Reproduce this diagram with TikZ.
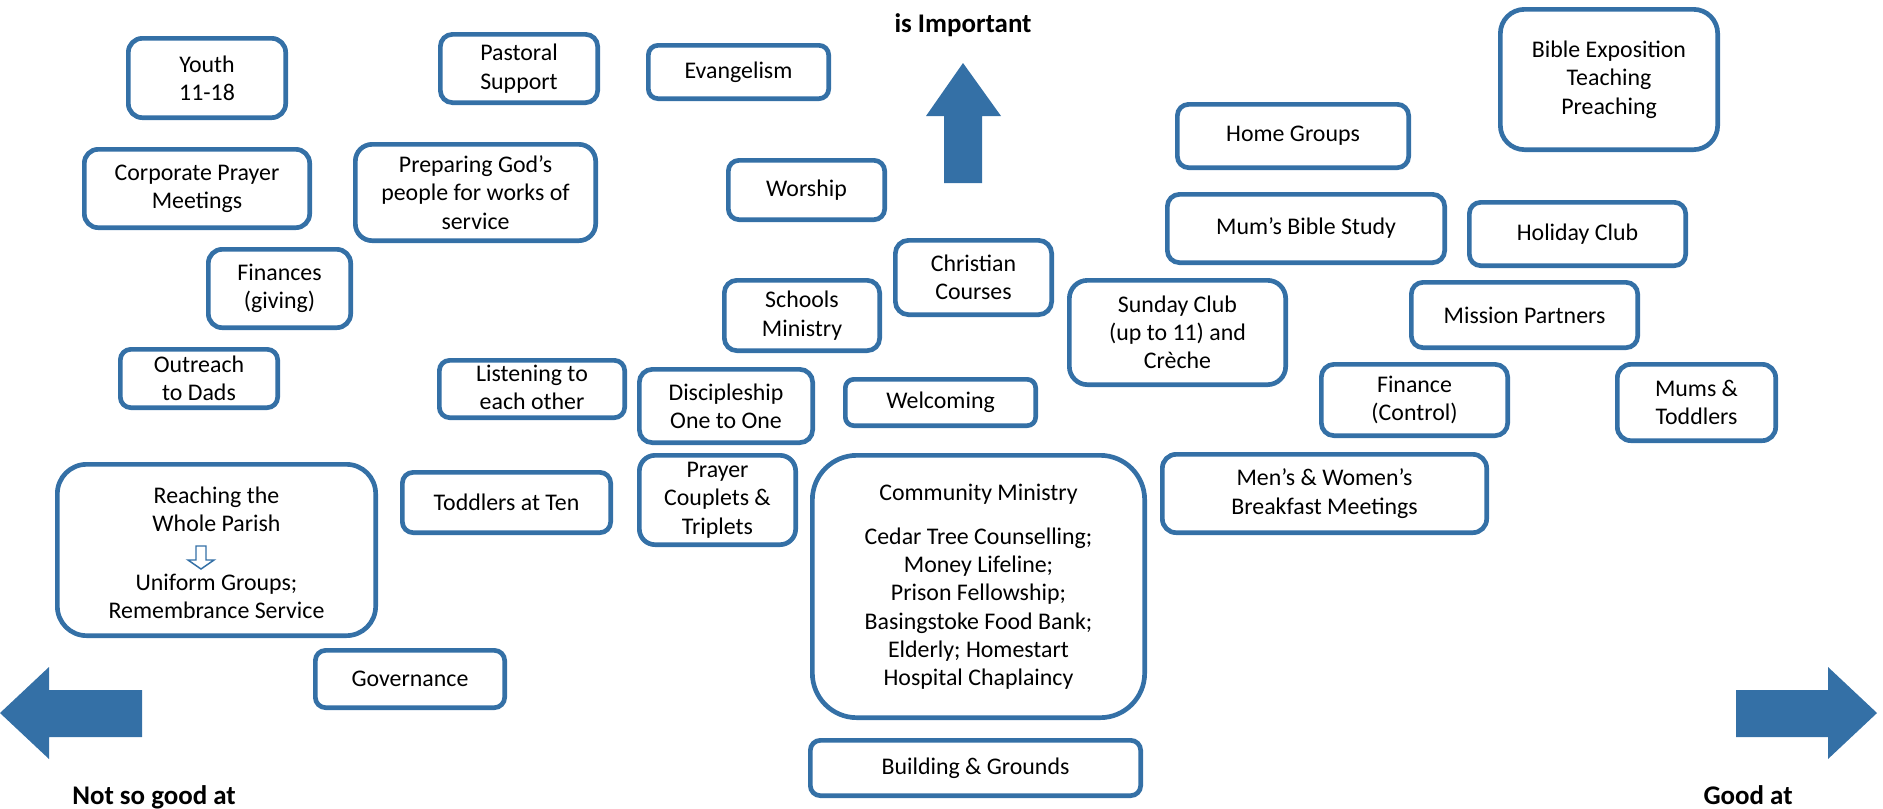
\documentclass[tikz,border=0pt]{standalone}
\usepackage{fontspec}
\setmainfont{Carlito}
\definecolor{myblue}{RGB}{52,112,166}
\tikzset{
  box/.style={draw=myblue, line width=3.5pt, fill=white, align=center, inner sep=0pt,
    font=\fontsize{17.9}{21.2}\selectfont},
  sz/.style 2 args={minimum width=#1*0.75pt-3.5pt, minimum height=#2*0.75pt-3.5pt,
    rounded corners={0.125*min(#1,#2)}},
  txt/.style={align=center, inner sep=0pt, font=\fontsize{17.9}{21.2}\selectfont},
  lbl/.style={inner sep=0pt, font=\bfseries\fontsize{20.2}{24}\selectfont},
  bigarrow/.style={fill=myblue, draw=none}
}
\begin{document}
\begin{tikzpicture}[x=0.75pt,y=-0.75pt]
\useasboundingbox (0,0) rectangle (1883,808);

\node[box, sz={162}{84}] (youth) at (207,78) {Youth\\11-18};
\node[box, sz={162}{73}] (pastoral) at (519,68.5) {Pastoral\\Support};
\node[box, sz={185}{58}] (evang) at (738.5,72) {Evangelism};
\node[box, sz={161}{64}] (worship) at (806.5,190) {Worship};
\node[box, sz={161}{79}] (christian) at (973.5,277.5) {Christian\\Courses};
\node[box, sz={160}{75}] (schools) at (802,315.5) {Schools\\Ministry};
\node[box, sz={178}{78}] (disciple) at (726,406) {Discipleship\\One to One};
\node[box, sz={195}{51}] (welcoming) at (940.5,402.5) {Welcoming};
\node[box, sz={221}{109}] (sunday) at (1177.5,332.5) {Sunday Club\\(up to 11) and\\Crèche};
\node[box, sz={236}{68}] (homegroups) at (1293,136) {Home Groups};
\node[box, sz={282}{73}] (mumsbible) at (1306,228.5) {Mum’s Bible Study};
\node[box, sz={221}{68}] (holiday) at (1577.5,234) {Holiday Club};
\node[box, sz={231}{70}] (mission) at (1524.5,315) {Mission Partners};
\node[box, sz={191}{76}] (finctrl) at (1414.5,400) {Finance\\(Control)};
\node[box, sz={163}{81}] (mumstod) at (1696.5,402.5) {Mums \&\\Toddlers};
\node[box, sz={329}{83}] (breakfast) at (1324.5,493.5) {Men’s \& Women’s\\Breakfast Meetings};
\node[box, sz={222}{145}] (bible) at (1609,79.5) {Bible Exposition\\Teaching\\Preaching};
\node[box, sz={230}{83}] (corporate) at (197,188.5) {Corporate Prayer\\Meetings};
\node[box, sz={245}{101}] (preparing) at (475.5,192.5) {Preparing God’s\\people for works of\\service};
\node[box, sz={147}{83}] (finances) at (279.5,288.5) {Finances\\(giving)};
\node[box, sz={162}{63}] (outreach) at (199,378.5) {Outreach\\to Dads};
\node[box, sz={190}{62}] (listening) at (532,389) {};
\node[txt] (listeningT) at (532,387) {Listening to\\each other};
\node[box, sz={213}{65}] (toddlers) at (506.5,502.5) {Toddlers at Ten};
\node[box, sz={161}{94}] (prayer) at (717.5,500) {Prayer\\Couplets \&\\Triplets};
\node[box, sz={194}{62}] (governance) at (410,679) {Governance};
\node[box, sz={323}{176}] (reaching) at (216.5,550) {};
\node[txt] (reachA) at (216.5,509) {Reaching the\\Whole Parish};
\node[txt] (reachB) at (216.5,596) {Uniform Groups;\\Remembrance Service};
\draw[myblue, line width=1.1pt, fill=white, line join=miter]
  (196,546) -- (206,546) -- (206,560) -- (214,560) -- (201,569) -- (188,560) -- (196,560) -- cycle;
\node[box, sz={337}{267}] (community) at (978.5,586.5) {Community Ministry\\[12pt]Cedar Tree Counselling;\\Money Lifeline;\\Prison Fellowship;\\Basingstoke Food Bank;\\Elderly; Homestart\\Hospital Chaplaincy};
\node[box, sz={335}{60}] (building) at (975.5,768) {Building \& Grounds};

\fill[bigarrow] (944,183) -- (944,116) -- (926,116) -- (963,63) -- (1001,116) -- (982,116) -- (982,183) -- cycle;
\fill[bigarrow] (142,690) -- (49,690) -- (49,667) -- (0,713) -- (49,759) -- (49,737) -- (142,737) -- cycle;
\fill[bigarrow] (1736,690) -- (1828,690) -- (1828,667) -- (1877,713) -- (1828,759) -- (1828,737) -- (1736,737) -- cycle;

\node[lbl, anchor=base] (imp) at (963,32) {is Important};
\node[lbl, anchor=base] (notgood) at (154,804) {Not so good at};
\node[lbl, anchor=base] (good) at (1748,804) {Good at};
\end{tikzpicture}
\end{document}
